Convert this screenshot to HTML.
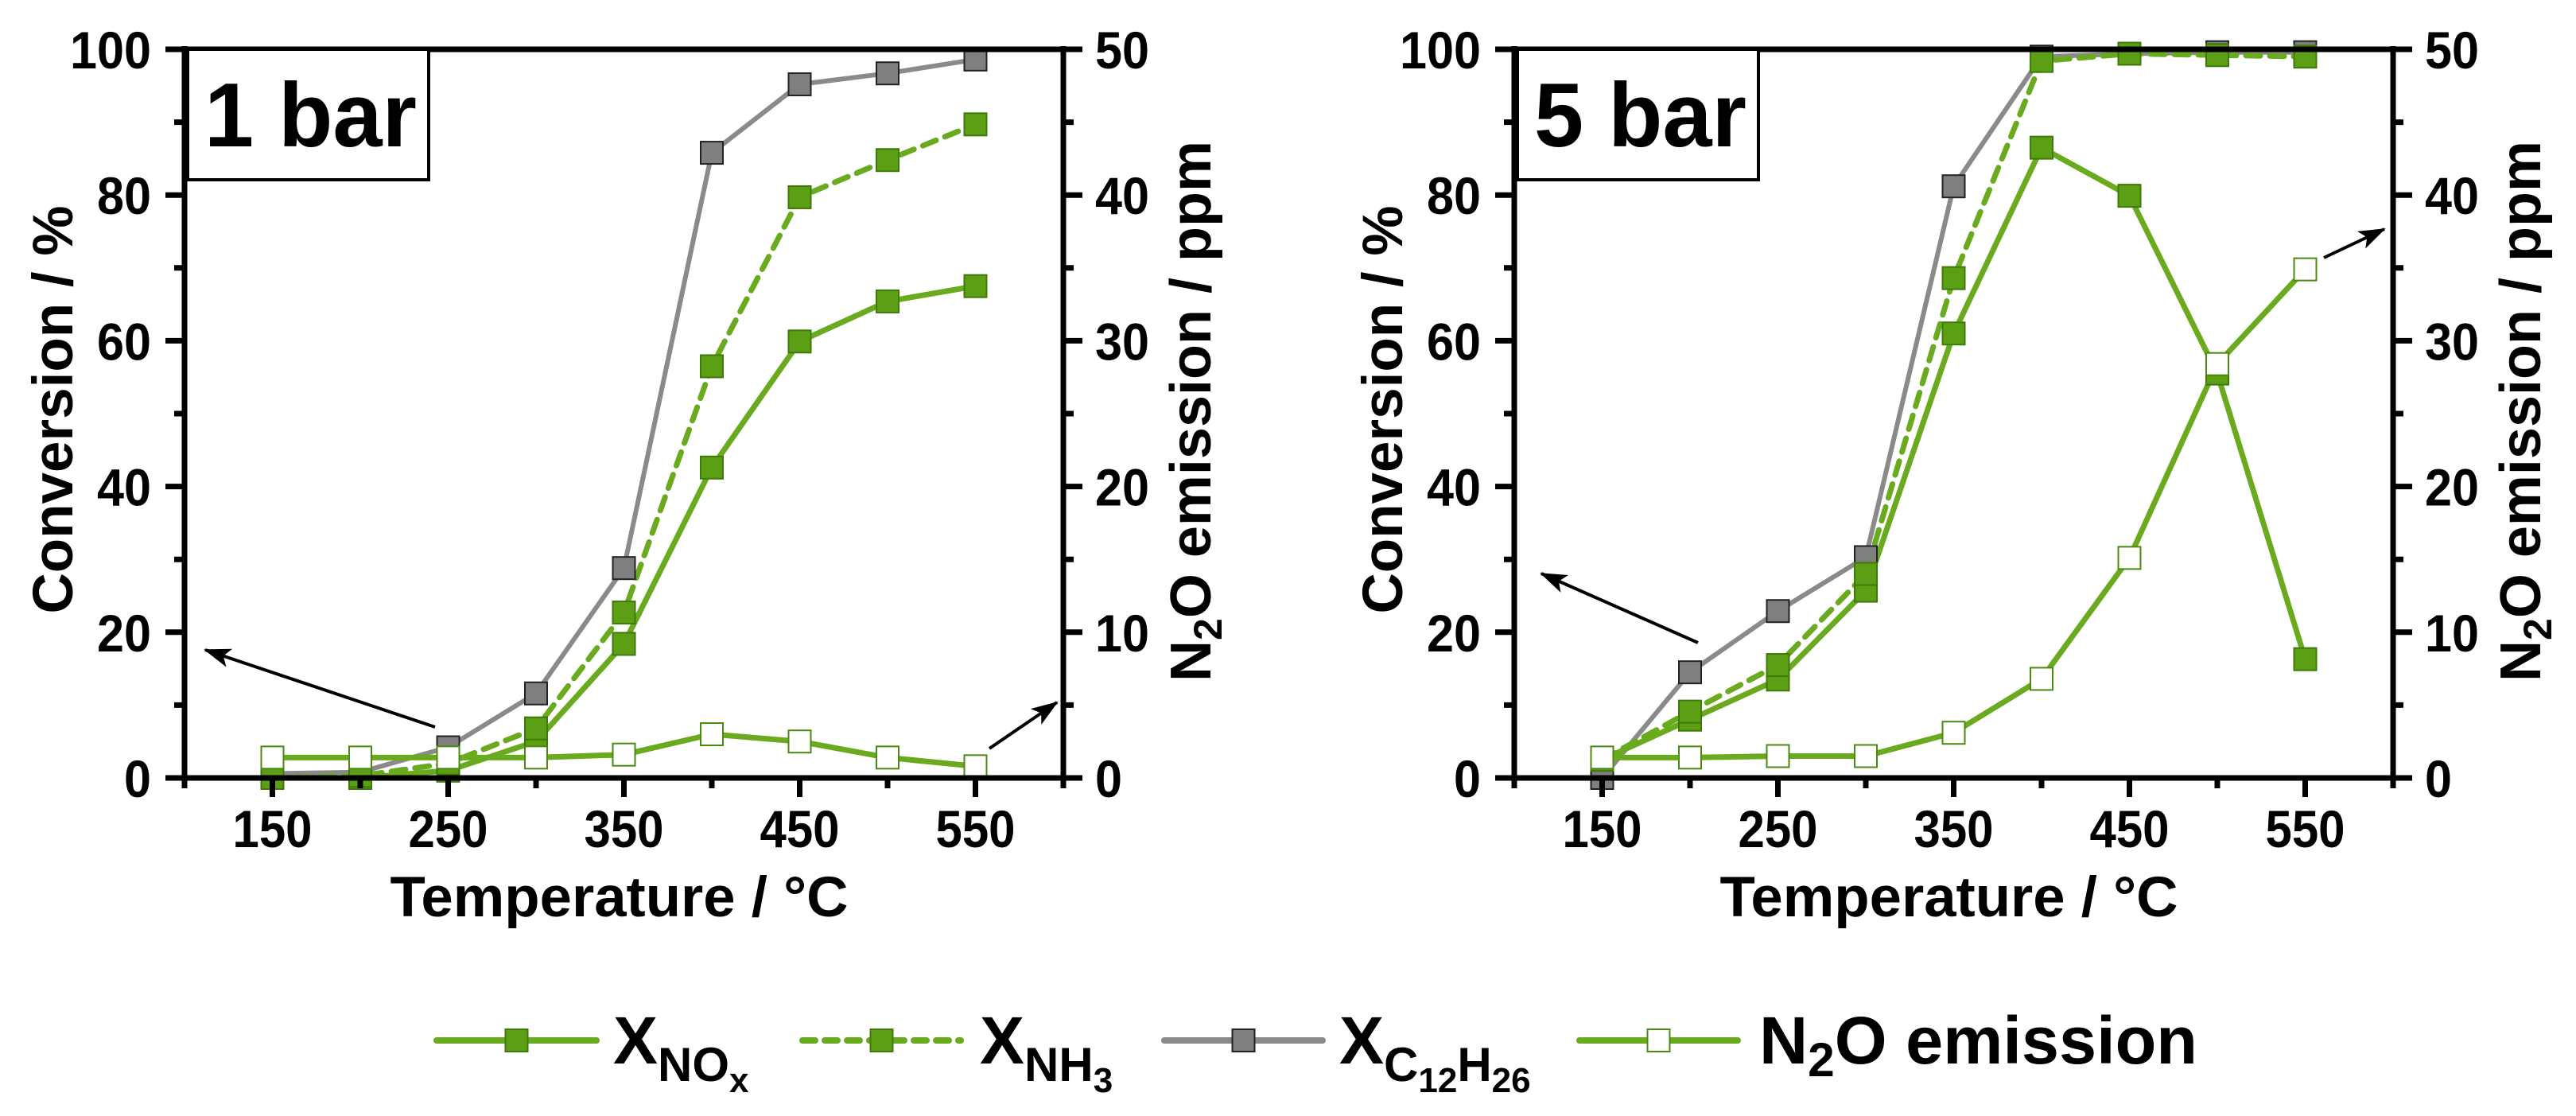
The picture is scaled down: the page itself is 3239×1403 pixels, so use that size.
<!DOCTYPE html>
<html><head><meta charset="utf-8"><style>
html,body{margin:0;padding:0;background:#fff;}
svg{display:block;}
text{font-family:"Liberation Sans",sans-serif;font-weight:bold;fill:#000;}
.n{font-family:"Liberation Sans Narrow","Liberation Sans",sans-serif;}
</style></head><body>
<svg id="chart" width="3239" height="1403" viewBox="0 0 3239 1403" xmlns="http://www.w3.org/2000/svg">
<defs>
<marker id="ah2" markerWidth="34" markerHeight="24" refX="32" refY="12" orient="auto" markerUnits="userSpaceOnUse"><path d="M0,0 L34,12 L0,24 L8,12 Z" fill="#000"/></marker></defs>
<g id="root"></g>
</svg>
<script>
const temps = [150,200,250,300,350,400,450,500,550];
const p1_C12 = [0.6,0.8,4.2,11.6,28.8,85.8,95.2,96.7,98.6];
const p1_NOx = [0,0,1,5,18.4,42.6,59.9,65.4,67.5];
const p1_NH3 = [0,0.3,2,6.8,22.7,56.5,79.7,84.8,89.7];
const p1_N2O = [1.4,1.4,1.4,1.4,1.6,3.0,2.5,1.4,0.8];
const p2_C12 = [0,14.5,22.9,30.3,81.2,99.0,99.4,99.6,99.6];
const p2_NOx = [2.5,8,13.5,25.7,61,86.5,79.9,55.5,16.3];
const p2_NH3 = [2.5,9.1,15.5,28,68.6,98.4,99.4,99.2,99.0];
const p2_N2O = [1.4,1.4,1.5,1.5,3.1,6.8,15.1,28.4,34.9];
const yTicksL = [0,20,40,60,80,100];
const yTicksR = [0,10,20,30,40,50];
const xTicks = [150,250,350,450,550];

const NS="http://www.w3.org/2000/svg";
const root=document.getElementById('root');
function el(tag,attrs,parent){const e=document.createElementNS(NS,tag);for(const k in attrs)e.setAttribute(k,attrs[k]);(parent||root).appendChild(e);return e;}
const GREEN="#6aaa1e", MFILL="#5c9e14", MSTROKE="#3e7a0a", GRAY="#8a8a8a", GFILL="#7f7f7f";

function panel(name,x0,data,label,arrows){
  const g=el('g',{});
  
  
  const y0=978, y1=62, W=1105;
  const X=t=>x0+(t-100)/500*W;
  const Y=v=>y0-(v/100)*(y0-y1);
  const YR=v=>Y(v*2);
  const xr=x0+W;
  const series=[
    {n:'c12h26',v:data.c12,c:GRAY,w:6,f:GFILL,s:'#222',dash:null,sc:Y},
    {n:'nox',v:data.nox,c:GREEN,w:7,f:MFILL,s:MSTROKE,dash:null,sc:Y},
    {n:'nh3',v:data.nh3,c:GREEN,w:7,f:MFILL,s:MSTROKE,dash:'18 12',sc:Y},
    {n:'n2o',v:data.n2o,c:GREEN,w:7,f:'#fff',s:'#4a8a10',dash:null,sc:YR}
  ];
  series.forEach(s=>{
    const pts=temps.map((t,i)=>X(t).toFixed(1)+','+s.sc(s.v[i]).toFixed(1)).join(' ');
    const pl=el('polyline',{points:pts,fill:'none',stroke:s.c,'stroke-width':s.w,'stroke-linejoin':'round','stroke-linecap':'round'},g);
    if(s.dash)pl.setAttribute('stroke-dasharray',s.dash);
    
    
  });
  series.forEach(s=>{
    temps.forEach((t,i)=>{
      const r=el('rect',{x:X(t)-14,y:s.sc(s.v[i])-14,width:28,height:28,fill:s.f,stroke:s.s,'stroke-width':2},g);
      
      
    });
  });
  const ax=el('path',{d:`M${x0-4},${y0} H${xr+4} M${x0},${y0+4} V${y1-4} M${x0-4},${y1} H${xr+4} M${xr},${y1-4} V${y0+4}`,stroke:'#000','stroke-width':7,fill:'none'},g);
  
  
  let d='';
  for(let t=100;t<=600;t+=50){const maj=(t-150)%100===0;d+=`M${X(t)},${y0} V${y0+(maj?24:13)} `;}
  for(let v=0;v<=100;v+=10){const maj=v%20===0;d+=`M${x0},${Y(v)} H${x0-(maj?24:13)} M${xr},${Y(v)} H${xr+(maj?24:13)} `;}
  const tk=el('path',{d:d,stroke:'#000','stroke-width':7,fill:'none'},g);
  
  
  xTicks.forEach(t=>{const e=el('text',{x:X(t),y:1065,'text-anchor':'middle','font-size':66,class:'n',textLength:100,lengthAdjust:'spacingAndGlyphs'},g);e.textContent=t;
    
    });
  yTicksL.forEach(v=>{const s=String(v);const e=el('text',{x:x0-42,y:Y(v)+24,'text-anchor':'end','font-size':66,class:'n',textLength:s.length*34,lengthAdjust:'spacingAndGlyphs'},g);e.textContent=s;
    
    });
  yTicksR.forEach(v=>{const s=String(v);const e=el('text',{x:xr+40,y:YR(v)+24,'text-anchor':'start','font-size':66,class:'n',textLength:s.length*34,lengthAdjust:'spacingAndGlyphs'},g);e.textContent=s;
    
    });
  const xt=el('text',{x:x0+W/2-6,y:1152,'text-anchor':'middle','font-size':71,textLength:576,lengthAdjust:'spacingAndGlyphs'},g);xt.textContent='Temperature / °C';
  
  
  const yt=el('text',{transform:`translate(${x0-141},515) rotate(-90)`,'text-anchor':'middle','font-size':71,textLength:513,lengthAdjust:'spacingAndGlyphs'},g);yt.textContent='Conversion / %';
  
  
  const rt=el('text',{transform:`translate(${xr+185},517) rotate(-90)`,'text-anchor':'middle','font-size':72},g);
  rt.innerHTML='N<tspan dy="14" font-size="50">2</tspan><tspan dy="-14">O emission / ppm</tspan>';
  
  
  const bx=el('rect',{x:x0+4,y:y1,width:303,height:164,fill:'#fff',stroke:'#000','stroke-width':4},g);
  
  
  const bt=el('text',{x:x0+25,y:184,'font-size':114,textLength:267,lengthAdjust:'spacingAndGlyphs'},g);bt.textContent=label;
  
  
  arrows.forEach((a,i)=>{const l=el('line',{x1:a[0],y1:a[1],x2:a[2],y2:a[3],stroke:'#000','stroke-width':4,'marker-end':'url(#ah2)'},g);
    
    });
}
panel('panel-1-bar',232,{c12:p1_C12,nox:p1_NOx,nh3:p1_NH3,n2o:p1_N2O},'1 bar',[[547,914,258,817],[1244,941,1329,883]]);
panel('panel-5-bar',1904,{c12:p2_C12,nox:p2_NOx,nh3:p2_NH3,n2o:p2_N2O},'5 bar',[[2135,808,1938,721],[2922,324,2998,288]]);

const lg=el('g',{});


const LY=1308;
const leg=[
 {n:'legend-nox',x1:549,x2:750,c:GREEN,w:8,dash:null,f:MFILL,s:MSTROKE,tx:771,main:'X',sub:'NO',subsub:'x'},
 {n:'legend-nh3',x1:1009,x2:1208,c:GREEN,w:8,dash:'16 12',f:MFILL,s:MSTROKE,tx:1232,main:'X',sub:'NH',subsub:'3'},
 {n:'legend-c12h26',x1:1464,x2:1663,c:GRAY,w:8,dash:null,f:GFILL,s:'#222',tx:1684,main:'X',sub:'C',subsub:'12',sub2:'H',subsub2:'26'},
 {n:'legend-n2o',x1:1986,x2:2185,c:GREEN,w:8,dash:null,f:'#fff',s:'#4a8a10',tx:2212}
];
leg.forEach(L=>{
  const g=el('g',{},lg);
  
  
  const ln=el('line',{x1:L.x1,y1:LY,x2:L.x2,y2:LY,stroke:L.c,'stroke-width':L.w,'stroke-linecap':'round'},g);
  if(L.dash)ln.setAttribute('stroke-dasharray',L.dash);
  const cx=(L.x1+L.x2)/2;
  el('rect',{x:cx-14,y:LY-14,width:28,height:28,fill:L.f,stroke:L.s,'stroke-width':2},g);
  const t=el('text',{x:L.tx,y:1337,'font-size':84,class:'n'},g);
  if(L.main){
    let h='<tspan>X</tspan><tspan dy="22" font-size="60">'+L.sub+'</tspan><tspan dy="14" font-size="44">'+L.subsub+'</tspan>';
    if(L.sub2)h+='<tspan dy="-14" font-size="60">'+L.sub2+'</tspan><tspan dy="14" font-size="44">'+L.subsub2+'</tspan>';
    t.innerHTML=h;
  } else {
    t.setAttribute('textLength',551);t.setAttribute('lengthAdjust','spacingAndGlyphs');
    t.innerHTML='N<tspan dy="16" font-size="60">2</tspan><tspan dy="-16">O emission</tspan>';
  }
});
</script>
</body></html>
